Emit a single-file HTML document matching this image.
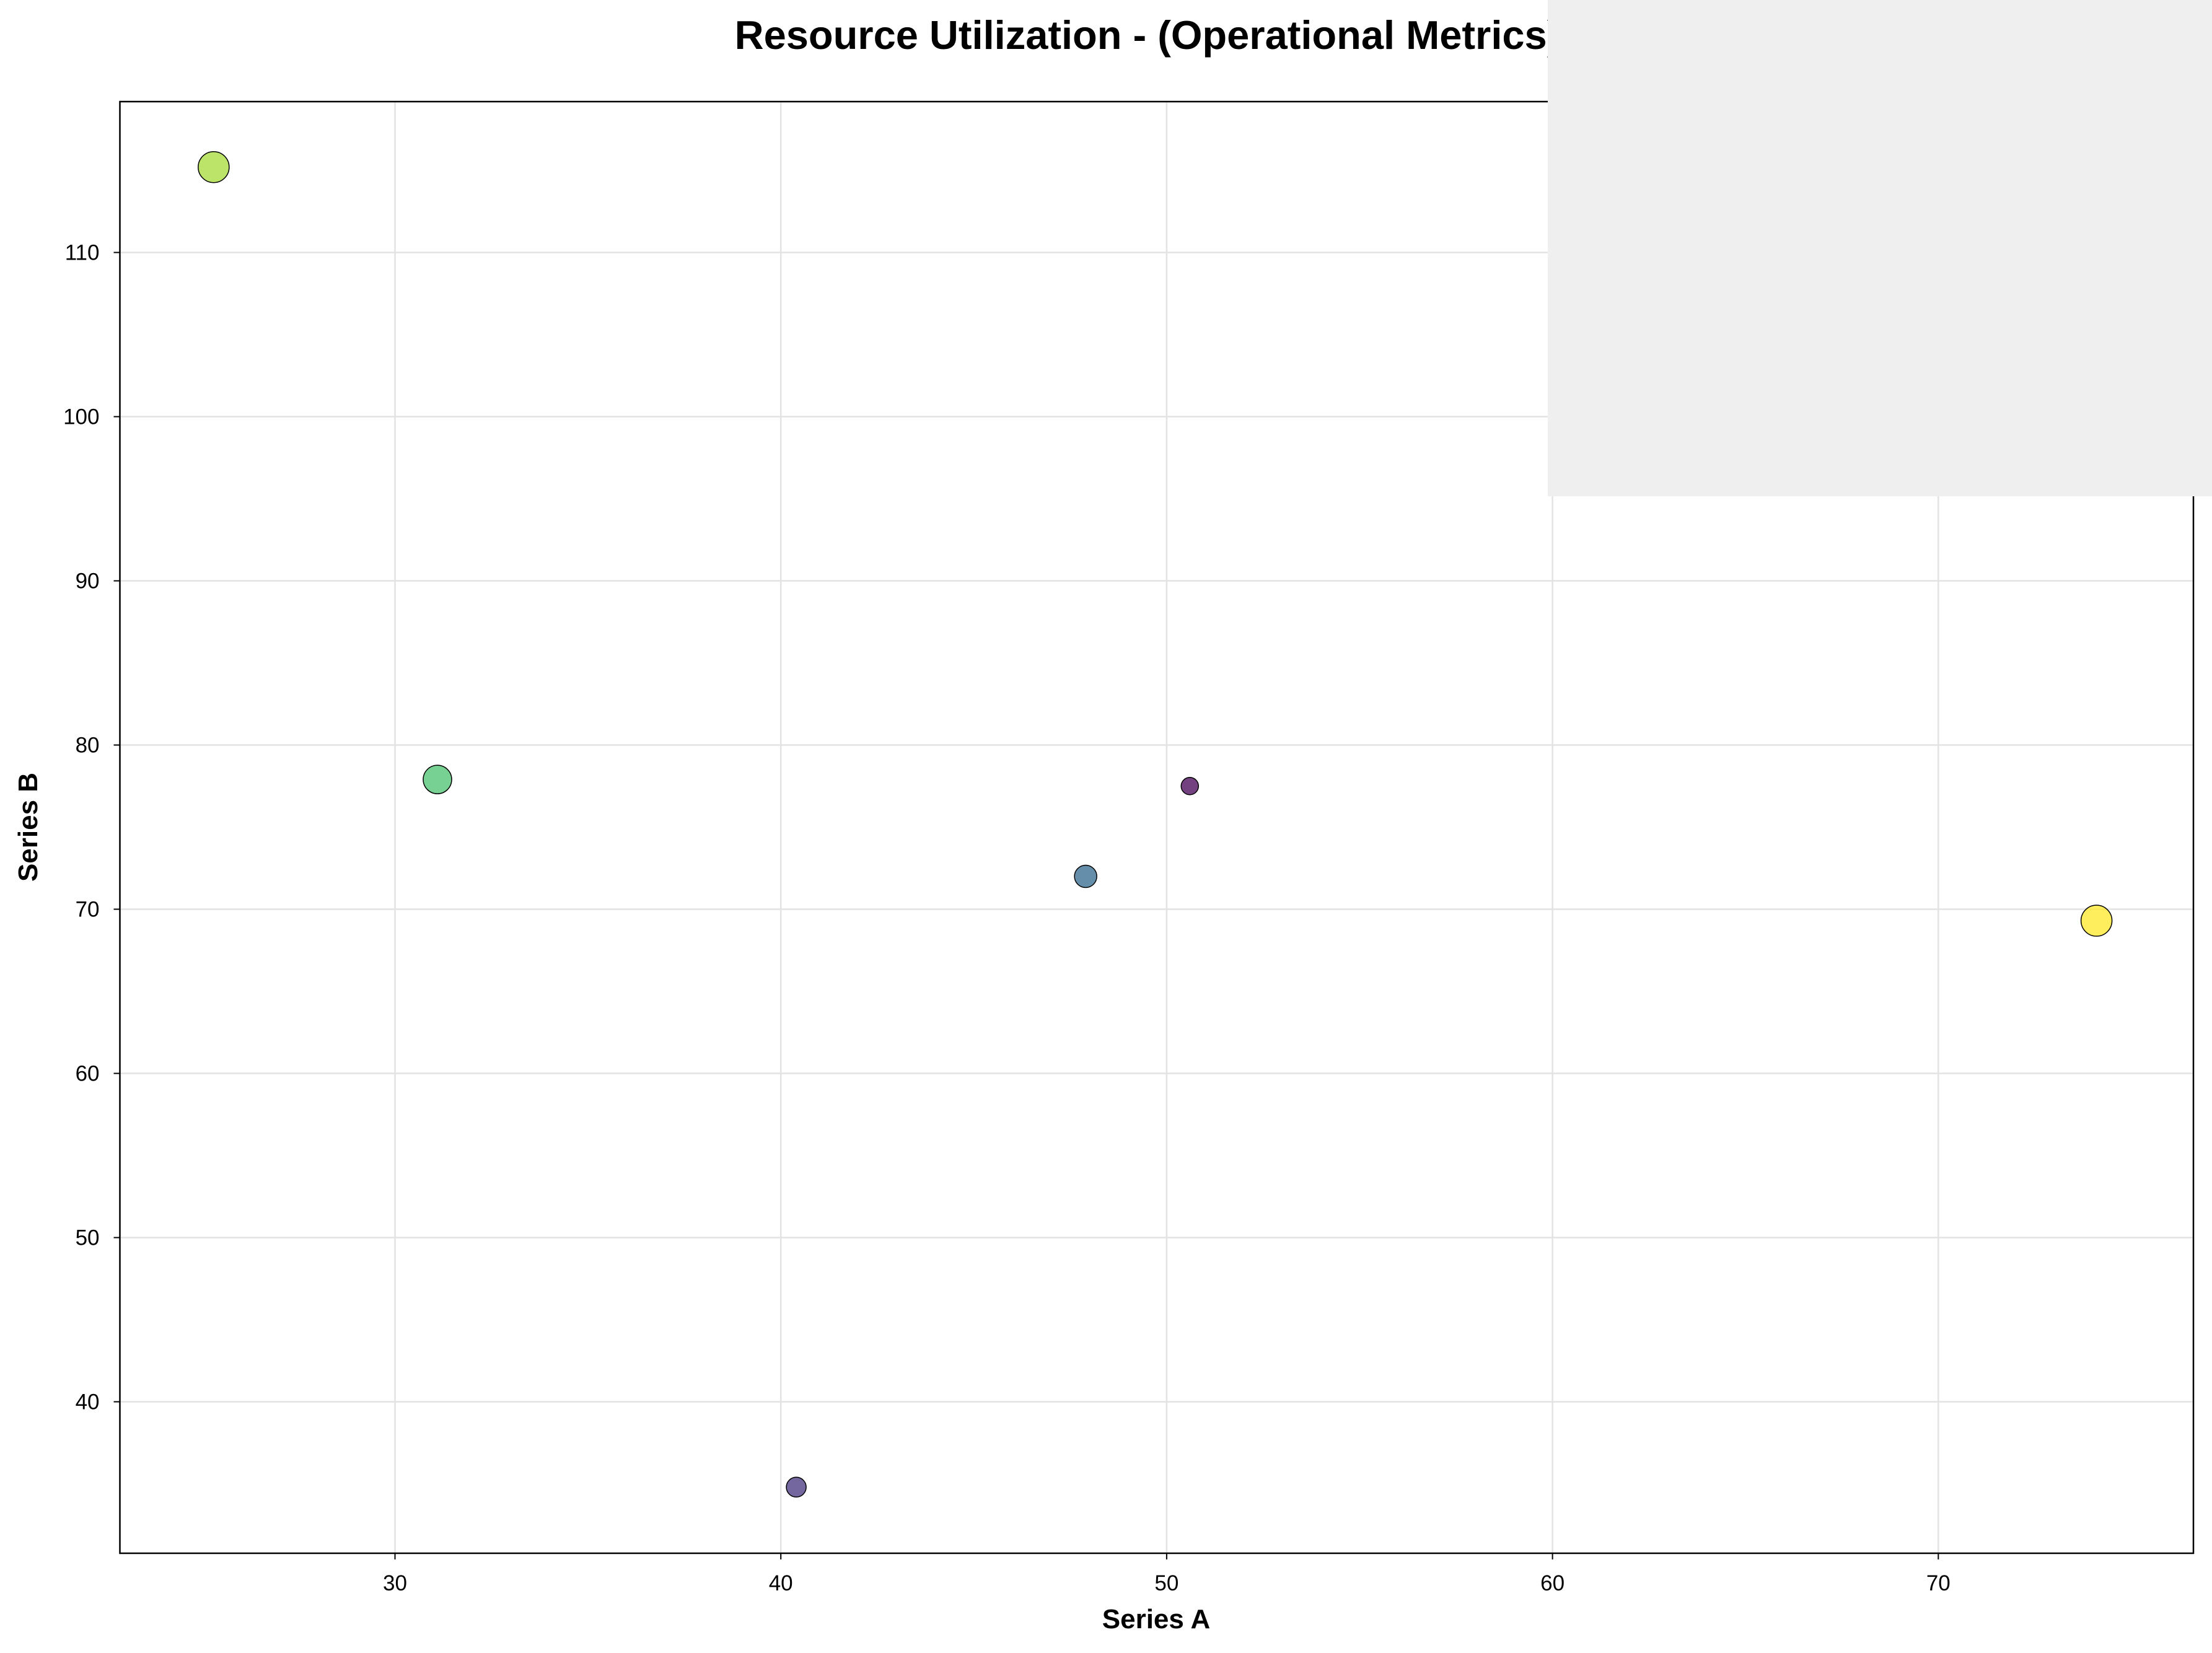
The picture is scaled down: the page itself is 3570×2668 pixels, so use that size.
<!DOCTYPE html>
<html><head><meta charset="utf-8"><style>
html,body{margin:0;padding:0;background:#fff;}
svg{display:block;font-family:"Liberation Sans",Arial,sans-serif;}
</style></head><body>
<svg id="chart" width="3570" height="2668" viewBox="0 0 3570 2668">
<text x="1852" y="79" text-anchor="middle" font-size="65" font-weight="bold">Resource Utilization - (Operational Metrics)</text>
<g id="grid"></g>
<g id="points"></g>
<rect x="193.5" y="164" width="3346.5" height="2343" fill="none" stroke="#000" stroke-width="2.5"/>
<g id="ticks"></g>
<text x="1866" y="2628" text-anchor="middle" font-size="44" font-weight="bold">Series A</text>
<text x="60" y="1335" text-anchor="middle" font-size="44" font-weight="bold" transform="rotate(-90 60 1335)">Series B</text>
<rect x="2498" y="0" width="1072" height="801" fill="#efefef"/>
</svg>
<script>
const xVals=[25.3,31.1,50.6,47.9,74.1,40.4];
const yVals=[115.2,77.9,77.5,72.0,69.3,34.8];
const sizes=[25,23,14,18,25,16];
const colors=["#a5db36","#4ac16d","#440154","#31688e","#fde725","#46337e"];
const xTicks=[30,40,50,60,70];
const yTicks=[40,50,60,70,80,90,100,110];
const NS="http://www.w3.org/2000/svg";
const L=193.5,R=3540,T=164,B=2507;
function sx(v){return 637.5+(v-30)*62.27;}
function sy(v){return 407.5-(v-110)*26.5;}
const grid=document.getElementById('grid'),ticks=document.getElementById('ticks'),pts=document.getElementById('points');
function mk(tag,attrs,parent){const e=document.createElementNS(NS,tag);for(const k in attrs)e.setAttribute(k,attrs[k]);parent.appendChild(e);return e;}
xTicks.forEach(t=>{const x=sx(t);
 const g=mk('line',{x1:x,x2:x,y1:T,y2:B,stroke:'#e3e3e3','stroke-width':2.5},grid);
 
 
 const tk=mk('line',{x1:x,x2:x,y1:B,y2:B+10,stroke:'#000','stroke-width':2},ticks);
 
 
 const tx=mk('text',{x:x,y:B+60,'text-anchor':'middle','font-size':35},ticks);tx.textContent=t;
 
 
});
yTicks.forEach(t=>{const y=sy(t);
 const g=mk('line',{x1:L,x2:R,y1:y,y2:y,stroke:'#e3e3e3','stroke-width':2.5},grid);
 
 
 const tk=mk('line',{x1:L-10,x2:L,y1:y,y2:y,stroke:'#000','stroke-width':2},ticks);
 
 
 const tx=mk('text',{x:L-33,y:y+12,'text-anchor':'end','font-size':35},ticks);tx.textContent=t;
 
 
});
xVals.forEach((v,i)=>{
 const c=mk('circle',{cx:sx(v),cy:sy(yVals[i]),r:sizes[i],fill:colors[i],'fill-opacity':0.75,stroke:'#000','stroke-width':1.5},pts);
 
 
});
</script>
</body></html>
